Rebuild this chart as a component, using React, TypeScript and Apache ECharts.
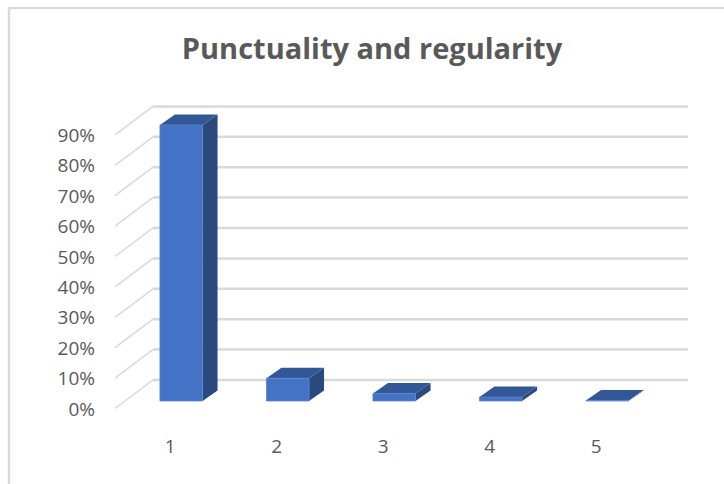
import React, { useEffect, useRef } from "react";
import * as echarts from "echarts";

const categories = ["1", "2", "3", "4", "5"];
const shares = [90.8, 7.5, 2.5, 1.3, 0.2];
const ticks = [0, 10, 20, 30, 40, 50, 60, 70, 80, 90];
const titleText = "Punctuality and regularity";

const FONT = "'Open Sans', sans-serif";
const GRID = { left: 117, top: 134.9, width: 532.5, height: 273.6 };

export default function App() {
  const ref = useRef<HTMLDivElement>(null);
  useEffect(() => {
    const chart = echarts.init(ref.current!, undefined, { renderer: "svg" });
    const gridItem = (params: any, api: any) => {
      const [, y] = api.coord([0, api.value(0)]);
      const frontX = GRID.left - 2;
      const backX = frontX + 38;
      const backY = y - 28.5;
      const endX = 688;
      return {
        type: "group",
        children: [
          {
            type: "line",
            shape: { x1: frontX, y1: y, x2: backX, y2: backY },
            style: { stroke: "#d9d9d9", lineWidth: 1.5 },
          },
          {
            type: "line",
            shape: { x1: backX, y1: backY, x2: endX, y2: backY },
            style: { stroke: "#d9d9d9", lineWidth: 2.5 },
          },
        ],
      };
    };
    const barItem = (params: any, api: any) => {
      const [cx, top0] = api.coord([api.value(0), api.value(1)]);
      const [, base0] = api.coord([api.value(0), 0]);
      const band = api.size([1, 0])[0];
      const w = band * 0.4;
      const x0 = cx + 11 - w / 2;
      const x1 = x0 + w;
      const top = top0 - 7.5;
      const base = base0 - 7.5;
      const dx = 15;
      const dy = 10.5;
      return {
        type: "group",
        children: [
          {
            type: "polygon",
            shape: { points: [[x1, top], [x1 + dx, top - dy], [x1 + dx, base - dy], [x1, base]] },
            style: { fill: "#2a4a7f" },
          },
          {
            type: "polygon",
            shape: { points: [[x0, top], [x0 + dx, top - dy], [x1 + dx, top - dy], [x1, top]] },
            style: { fill: "#325796" },
          },
          {
            type: "rect",
            shape: { x: x0, y: top, width: w, height: Math.max(base - top, 0.5) },
            style: { fill: "#4472c4", stroke: "#5b84cf", lineWidth: 0.8 },
          },
        ],
      };
    };
    chart.setOption({
      animation: false,
      backgroundColor: "#ffffff",
      title: {
        text: titleText,
        left: 367,
        top: 28,
        textAlign: "center",
        textStyle: { fontFamily: FONT, fontSize: 29, fontWeight: "bold", color: "#595959" },
      },
      grid: { ...GRID },
      xAxis: {
        type: "category",
        data: categories,
        axisLine: { show: false },
        axisTick: { show: false },
        axisLabel: { margin: 28, fontFamily: FONT, fontSize: 19, color: "#595959" },
      },
      yAxis: {
        type: "value",
        min: 0,
        max: 90,
        interval: 10,
        splitLine: { show: false },
        axisLine: { show: false },
        axisTick: { show: false },
        axisLabel: { margin: 22, formatter: "{value}%", fontFamily: FONT, fontSize: 19, color: "#595959" },
      },
      series: [
        {
          type: "custom",
          name: "gridlines",
          silent: true,
          z: 1,
          renderItem: gridItem,
          encode: { y: 0 },
          data: ticks.map((t) => [t]),
        },
        {
          type: "custom",
          name: "Punctuality and regularity",
          z: 2,
          renderItem: barItem,
          encode: { x: 0, y: 1 },
          data: categories.map((c, i) => [i, shares[i]]),
        },
      ],
      graphic: [
        { type: "line", shape: { x1: 8, y1: 8, x2: 724, y2: 8 }, style: { stroke: "#d9d9d9", lineWidth: 2 } },
        { type: "line", shape: { x1: 9, y1: 8, x2: 9, y2: 484 }, style: { stroke: "#d9d9d9", lineWidth: 2.5 } },
      ],
    });
    return () => chart.dispose();
  }, []);
  return <div ref={ref} style={{ position: "absolute", left: 0, top: 0, width: 724, height: 484 }} />;
}
